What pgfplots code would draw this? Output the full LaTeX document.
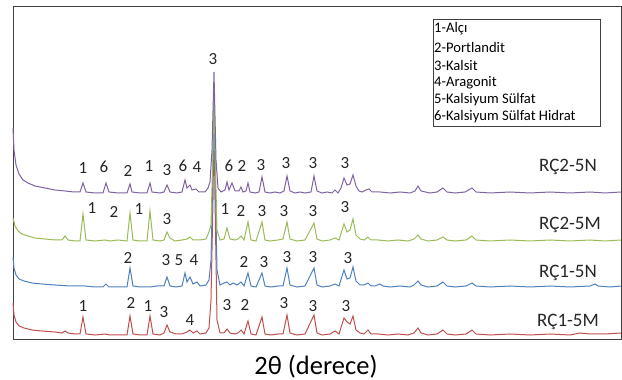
\documentclass[border=0pt]{standalone}
\usepackage{pgfplots}
\pgfplotsset{compat=1.18}
\usepackage{pgfplotstable}
\usepackage{fontspec}
\setmainfont{Carlito}
\definecolor{cpur}{HTML}{8064A2}
\definecolor{cgrn}{HTML}{9BBB59}
\definecolor{cblu}{HTML}{4F81BD}
\definecolor{cred}{HTML}{C0504D}

\pgfplotstableread{
x I
13 211
14 189
16 174
19 165
23 159
28 156
35 153
45 151
55 149
65 148
74 147
80 147
83 156
86 147
95 146
103 146
106 156
109 147
118 146
127 146
130 155
132 147
140 146
147 146
150 156
152 147
160 146
164 147
167 154
170 147
177 146
182 147
185 159
187 151
190 154
192 149
196 150
199 147
205 147
208 151
210 157
212 189
214 267
216 179
218 151
221 147
225 149
227 157
229 149
232 156
235 148
239 148
241 152
243 147
246 148
248 156
250 147
255 146
259 147
262 162
265 147
270 146
275 147
280 146
284 148
287 163
290 148
295 146
300 147
305 146
311 147
314 163
317 148
322 146
327 147
332 146
335 149
338 146
341 151
344 161
347 154
350 155
353 164
356 153
359 148
362 147
366 149
369 150
372 147
380 147
390 146
400 147
410 146
415 148
418 153
421 148
430 146
437 147
443 151
447 147
455 146
465 147
472 151
476 147
490 146
510 147
530 146
550 147
570 146
590 147
605 146
621 147
}\purple

\pgfplotstableread{
x I
13 121
15 113
18 108
22 105
28 103
35 101
45 100
55 99
62 99
65 103
68 99
75 98
80 98
83 125
86 99
95 98
105 99
110 98
118 99
127 98
130 126
133 99
140 98
147 98
150 128
153 99
160 98
164 99
167 107
170 101
175 98
182 99
187 100
190 102
193 99
200 99
206 100
209 107
211 114
213 189
214 254
215 189
217 109
220 99
224 100
227 111
230 100
235 99
238 100
241 103
244 99
248 117
251 99
256 98
262 117
265 99
270 98
278 99
283 100
287 117
290 100
297 98
305 99
314 116
317 100
322 98
330 99
335 101
339 99
344 115
347 107
350 109
353 120
356 104
360 100
364 99
368 102
371 99
378 99
388 98
398 99
408 98
414 100
418 104
421 100
428 98
437 99
443 102
447 99
455 98
466 99
472 103
476 99
490 98
510 99
530 98
550 99
570 98
590 99
605 98
621 99
}\green

\pgfplotstableread{
x I
13 82
14 71
16 64
19 60
24 58
32 56
42 55
55 54
70 53
85 53
95 52
103 52
106 55
109 52
118 52
127 52
130 71
133 53
140 52
150 52
157 53
164 53
167 62
170 53
176 52
182 53
185 66
187 57
190 62
193 55
197 57
200 53
206 54
209 59
211 79
213 169
214 244
215 169
217 69
220 54
224 56
227 57
230 54
233 56
237 54
241 57
244 53
248 66
251 53
256 52
262 66
265 53
271 52
278 53
283 53
287 71
290 54
297 52
305 53
314 71
317 54
322 52
330 53
335 55
339 53
344 69
347 60
350 61
353 72
356 58
360 54
364 54
368 56
371 53
375 53
380 55
383 53
390 52
400 53
410 52
414 54
418 58
421 54
428 52
437 53
443 57
447 53
455 52
466 53
472 56
476 53
490 52
510 53
530 52
550 53
570 52
590 53
595 55
598 53
610 52
621 53
}\blue

\pgfplotstableread{
x I
13 36
14 24
16 17
19 13
24 11
32 9
42 8
55 7
62 6
65 8
68 6
75 5
80 5
83 22
86 5
95 4
105 5
110 4
118 4
127 4
130 23
133 5
140 4
147 4
150 23
153 5
160 4
164 6
167 14
170 7
176 5
182 5
187 7
190 9
193 6
197 8
200 5
206 6
209 11
211 39
213 139
214 234
215 139
217 19
220 6
224 6
227 10
230 6
235 5
238 6
241 9
244 5
248 18
251 5
256 4
262 22
265 5
271 4
278 5
283 5
287 24
290 6
297 4
305 5
314 24
317 6
322 4
330 5
335 8
339 5
344 21
347 17
350 15
353 23
356 9
360 6
364 5
368 9
371 5
378 5
388 4
398 5
408 4
414 6
418 11
421 6
428 4
437 5
443 9
447 5
455 4
466 5
472 9
476 5
490 4
510 5
530 4
550 5
570 4
580 6
590 5
605 5
621 6
}\red

\begin{document}
\begin{tikzpicture}
\path[use as bounding box] (0,0) rectangle (622bp,380bp);
\begin{axis}[
  at={(13bp,41bp)}, anchor=south west,
  width=608bp, height=333bp, scale only axis,
  xmin=13, xmax=621, ymin=0, ymax=333,
  xtick=\empty, ytick=\empty,
  axis line style={black!75, line width=0.9bp},
  clip=false,
  every axis plot/.append style={line width=1bp, mark=none},
]
\addplot[cred] table[x=x,y=I] {\red};
\addplot[cblu] table[x=x,y=I] {\blue};
\addplot[cgrn] table[x=x,y=I] {\green};
\addplot[cpur] table[x=x,y=I] {\purple};

% peak labels
\begin{scope}[every node/.style={font=\fontsize{17bp}{18bp}\selectfont, text=black!85, inner sep=0pt}]
% purple
\node at (axis cs:83,171) {1};
\node at (axis cs:104,172) {6};
\node at (axis cs:128,168) {2};
\node at (axis cs:149,173) {1};
\node at (axis cs:167,169) {3};
\node at (axis cs:183,173) {6};
\node at (axis cs:197,172) {4};
\node at (axis cs:213,280) {3};
\node at (axis cs:229,173) {6};
\node at (axis cs:242,173) {2};
\node at (axis cs:261,174) {3};
\node at (axis cs:286,176) {3};
\node at (axis cs:313,176) {3};
\node at (axis cs:345,176) {3};
% green
\node at (axis cs:92,131) {1};
\node at (axis cs:114,127) {2};
\node at (axis cs:139,130) {1};
\node at (axis cs:167,120) {3};
\node at (axis cs:225,130) {1};
\node at (axis cs:241,128) {2};
\node at (axis cs:262,128) {3};
\node at (axis cs:284,128) {3};
\node at (axis cs:313,128) {3};
\node at (axis cs:345,132) {3};
% blue
\node at (axis cs:128,81) {2};
\node at (axis cs:166,79) {3};
\node at (axis cs:179,79) {5};
\node at (axis cs:194,79) {4};
\node at (axis cs:244,77) {2};
\node at (axis cs:264,77) {3};
\node at (axis cs:287,82) {3};
\node at (axis cs:313,82) {3};
\node at (axis cs:348,81) {3};
% red
\node at (axis cs:83,33) {1};
\node at (axis cs:131,36) {2};
\node at (axis cs:148,33) {1};
\node at (axis cs:164,27) {3};
\node at (axis cs:190,19) {4};
\node at (axis cs:227,34) {3};
\node at (axis cs:245,34) {2};
\node at (axis cs:284,36) {3};
\node at (axis cs:313,33) {3};
\node at (axis cs:346,33) {3};
\end{scope}

% sample names
\begin{scope}[every node/.style={font=\fontsize{19bp}{20bp}\selectfont, text=black!85, inner sep=0pt}]
\node at (axis cs:568,172) {RÇ2-5N};
\node at (axis cs:570,114) {RÇ2-5M};
\node at (axis cs:568,66) {RÇ1-5N};
\node at (axis cs:568,17) {RÇ1-5M};
\end{scope}

% legend box
\draw[black!75, line width=0.8bp, fill=white] (axis cs:433,213) rectangle (axis cs:600,320);
\begin{scope}[every node/.style={font=\fontsize{14.6bp}{15bp}\selectfont, text=black, inner sep=0pt, anchor=west}]
\node at (axis cs:434,310) {1-Alçı};
\node at (axis cs:434,292) {2-Portlandit};
\node at (axis cs:434,274) {3-Kalsit};
\node at (axis cs:434,256) {4-Aragonit};
\node at (axis cs:434,239) {5-Kalsiyum Sülfat};
\node at (axis cs:434,222) {6-Kalsiyum Sülfat Hidrat};
\end{scope}

% x label
\node[font=\fontsize{26.5bp}{27bp}\selectfont, text=black, inner sep=0pt] at (axis cs:316,-28) {2θ (derece)};
\end{axis}
\end{tikzpicture}
\end{document}
